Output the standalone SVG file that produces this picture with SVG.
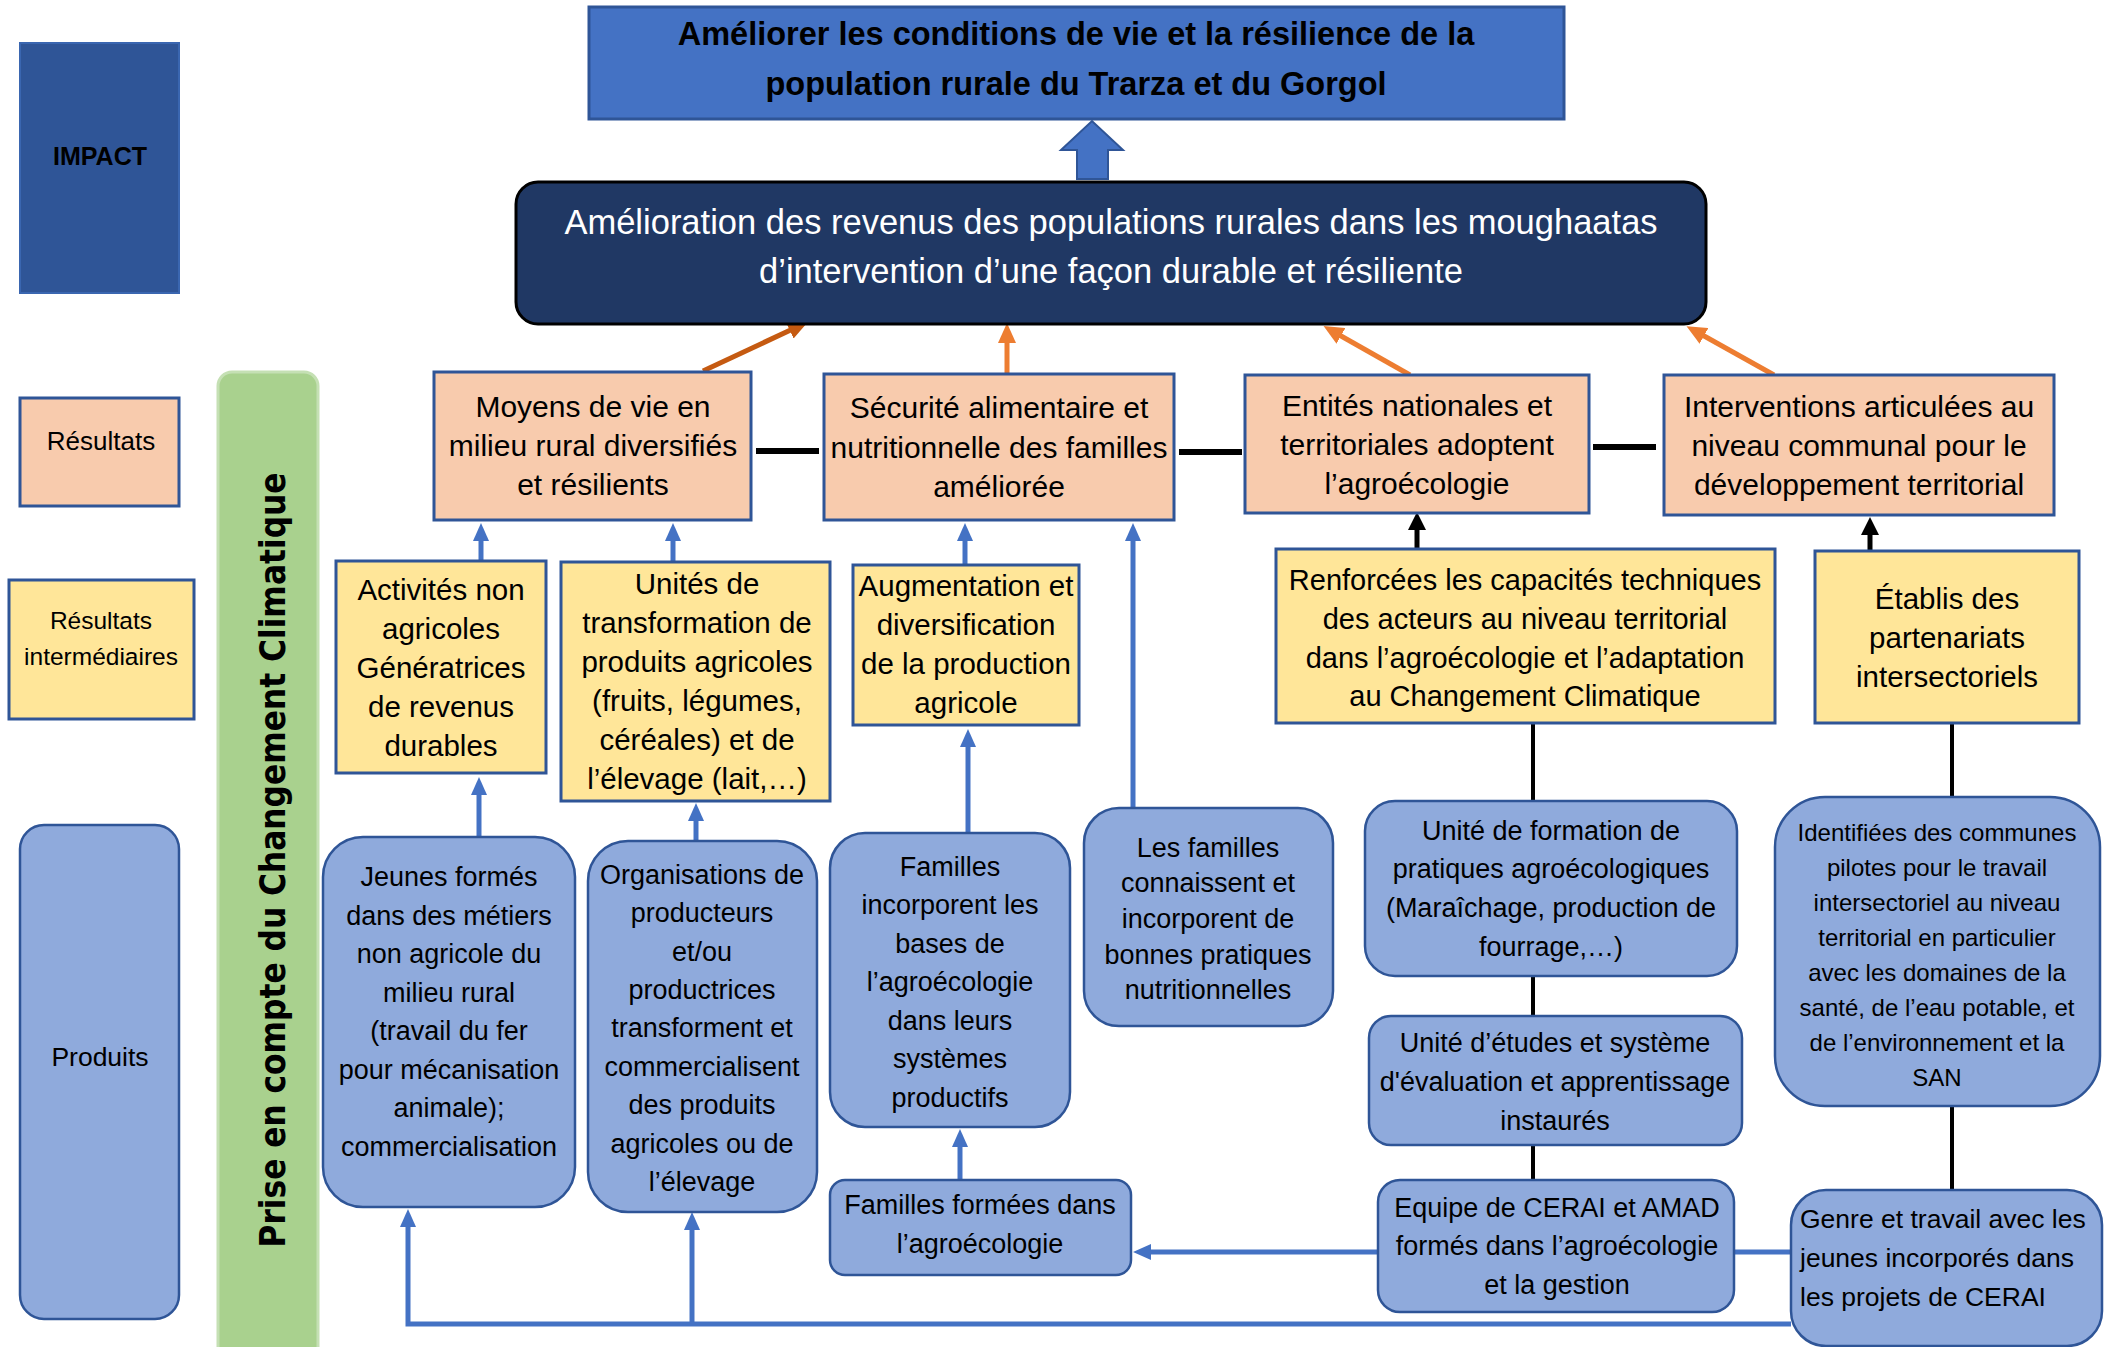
<svg xmlns="http://www.w3.org/2000/svg" width="2114" height="1347" viewBox="0 0 2114 1347">
<style>
text{font-family:"Liberation Sans",Arial,sans-serif;fill:#000;text-anchor:middle}
.res{fill:#F8CBAD;stroke:#2F5597;stroke-width:3}
.ri{fill:#FFE699;stroke:#2F5597;stroke-width:3}
.pr{fill:#8FAADC;stroke:#2F5597;stroke-width:2.5}
.f30{font-size:30px}
.f29{font-size:29.5px}
.f27{font-size:27px}
.bl{stroke:#4472C4;stroke-width:5;fill:none}
.bk{stroke:#000;stroke-width:4;fill:none}
.dash{stroke:#000;stroke-width:6}
</style>
<defs>
<marker id="aBlue" viewBox="0 0 18 16" refX="8" refY="8" markerWidth="18" markerHeight="16" markerUnits="userSpaceOnUse" orient="auto"><path d="M0,0 L18,8 L0,16 z" fill="#4472C4"/></marker>
<marker id="aBlack" viewBox="0 0 18 18" refX="8" refY="9" markerWidth="18" markerHeight="18" markerUnits="userSpaceOnUse" orient="auto"><path d="M0,0 L18,9 L0,18 z" fill="#000"/></marker>
<marker id="aOr" viewBox="0 0 20 18" refX="8" refY="9" markerWidth="20" markerHeight="18" markerUnits="userSpaceOnUse" orient="auto"><path d="M0,0 L20,9 L0,18 z" fill="#ED7D31"/></marker>
<marker id="aDOr" viewBox="0 0 20 18" refX="8" refY="9" markerWidth="20" markerHeight="18" markerUnits="userSpaceOnUse" orient="auto"><path d="M0,0 L20,9 L0,18 z" fill="#C55A11"/></marker>
</defs>

<!-- Legend -->
<g id="legend-impact"><rect x="20" y="43" width="159" height="250" fill="#2F5597" stroke="#3A66B0" stroke-width="2"/><text x="100" y="165" style="font-size:25px;font-weight:bold">IMPACT</text></g>
<g id="legend-resultats"><rect x="20" y="398" width="159" height="108" class="res"/><text x="101" y="450" style="font-size:26px">Résultats</text></g>
<g id="legend-ri"><rect x="9" y="580" width="185" height="139" class="ri"/><text style="font-size:24.5px"><tspan x="101" y="629">Résultats</tspan><tspan x="101" y="665">intermédiaires</tspan></text></g>
<g id="legend-produits"><rect x="20" y="825" width="159" height="494" rx="24" class="pr"/><text x="100" y="1066" style="font-size:26.5px">Produits</text></g>

<!-- Climate bar -->
<g id="climat"><rect x="218" y="372" width="100" height="1000" rx="14" fill="#A9D18E" stroke="#C5E0B4" stroke-width="3"/>
<text transform="translate(285,860) rotate(-90)" textLength="775" lengthAdjust="spacingAndGlyphs" style="font-family:'DejaVu Sans Condensed','DejaVu Sans',sans-serif;font-weight:bold;font-size:36px">Prise en compte du Changement Climatique</text></g>

<!-- Connectors -->
<g id="connectors">
<path d="M1077,179 L1077,150 L1061,150 L1092,121 L1123,150 L1108,150 L1108,179 Z" fill="#4472C4" stroke="#2F5597" stroke-width="2"/>
<line x1="703" y1="371" x2="797" y2="327" stroke="#C55A11" stroke-width="5" marker-end="url(#aDOr)"/>
<line x1="1007" y1="374" x2="1007" y2="335" stroke="#ED7D31" stroke-width="5" marker-end="url(#aOr)"/>
<line x1="1410" y1="375" x2="1334" y2="332" stroke="#ED7D31" stroke-width="5" marker-end="url(#aOr)"/>
<line x1="1774" y1="375" x2="1697" y2="332" stroke="#ED7D31" stroke-width="5" marker-end="url(#aOr)"/>
<line x1="756" y1="451" x2="819" y2="451" class="dash"/>
<line x1="1179" y1="452" x2="1242" y2="452" class="dash"/>
<line x1="1593" y1="447" x2="1656" y2="447" class="dash"/>
<line x1="1417" y1="549" x2="1417" y2="522" class="bk" style="stroke-width:5" marker-end="url(#aBlack)"/>
<line x1="1870" y1="551" x2="1870" y2="527" class="bk" style="stroke-width:5" marker-end="url(#aBlack)"/>
<line x1="481" y1="561" x2="481" y2="533" class="bl" marker-end="url(#aBlue)"/>
<line x1="673" y1="562" x2="673" y2="533" class="bl" marker-end="url(#aBlue)"/>
<line x1="965" y1="565" x2="965" y2="533" class="bl" marker-end="url(#aBlue)"/>
<line x1="1133" y1="808" x2="1133" y2="533" class="bl" marker-end="url(#aBlue)"/>
<line x1="479" y1="837" x2="479" y2="787" class="bl" marker-end="url(#aBlue)"/>
<line x1="696" y1="841" x2="696" y2="813" class="bl" marker-end="url(#aBlue)"/>
<line x1="968" y1="833" x2="968" y2="739" class="bl" marker-end="url(#aBlue)"/>
<line x1="960" y1="1180" x2="960" y2="1139" class="bl" marker-end="url(#aBlue)"/>
<line x1="1378" y1="1252" x2="1143" y2="1252" class="bl" marker-end="url(#aBlue)"/>
<line x1="1734" y1="1252" x2="1791" y2="1252" class="bl"/>
<path d="M1791,1324 L408,1324 L408,1219" class="bl" marker-end="url(#aBlue)"/>
<line x1="692" y1="1324" x2="692" y2="1222" class="bl" marker-end="url(#aBlue)"/>
<line x1="1533" y1="723" x2="1533" y2="801" class="bk"/>
<line x1="1533" y1="976" x2="1533" y2="1016" class="bk"/>
<line x1="1533" y1="1145" x2="1533" y2="1180" class="bk"/>
<line x1="1952" y1="723" x2="1952" y2="797" class="bk"/>
<line x1="1952" y1="1106" x2="1952" y2="1190" class="bk"/>
</g>

<!-- Impact -->
<g id="impact"><rect x="589" y="7" width="975" height="112" fill="#4472C4" stroke="#2F5597" stroke-width="3"/>
<text style="font-size:32.5px;font-weight:bold"><tspan x="1076" y="45">Améliorer les conditions de vie et la résilience de la</tspan><tspan x="1076" y="95">population rurale du Trarza et du Gorgol</tspan></text></g>

<g id="objectif"><rect x="516" y="182" width="1190" height="142" rx="22" fill="#203864" stroke="#000" stroke-width="3"/>
<text style="font-size:34.5px;fill:#fff"><tspan x="1111" y="234">Amélioration des revenus des populations rurales dans les moughaatas</tspan><tspan x="1111" y="283">d’intervention d’une façon durable et résiliente</tspan></text></g>

<!-- Résultats -->
<g id="r1"><rect x="434" y="372" width="317" height="148" class="res"/>
<text class="f30"><tspan x="593" y="417">Moyens de vie en</tspan><tspan x="593" y="456">milieu rural diversifiés</tspan><tspan x="593" y="495">et résilients</tspan></text></g>
<g id="r2"><rect x="824" y="374" width="350" height="146" class="res"/>
<text class="f30"><tspan x="999" y="418">Sécurité alimentaire et</tspan><tspan x="999" y="458">nutritionnelle des familles</tspan><tspan x="999" y="497">améliorée</tspan></text></g>
<g id="r3"><rect x="1245" y="375" width="344" height="138" class="res"/>
<text class="f30"><tspan x="1417" y="416">Entités nationales et</tspan><tspan x="1417" y="455">territoriales adoptent</tspan><tspan x="1417" y="494">l’agroécologie</tspan></text></g>
<g id="r4"><rect x="1664" y="375" width="390" height="140" class="res"/>
<text class="f30"><tspan x="1859" y="417">Interventions articulées au</tspan><tspan x="1859" y="456">niveau communal pour le</tspan><tspan x="1859" y="495">développement territorial</tspan></text></g>

<!-- Résultats intermédiaires -->
<g id="y1"><rect x="336" y="561" width="210" height="212" class="ri"/>
<text class="f29"><tspan x="441" y="600">Activités non</tspan><tspan x="441" y="639">agricoles</tspan><tspan x="441" y="678">Génératrices</tspan><tspan x="441" y="717">de revenus</tspan><tspan x="441" y="756">durables</tspan></text></g>
<g id="y2"><rect x="561" y="562" width="269" height="239" class="ri"/>
<text class="f29"><tspan x="697" y="594">Unités de</tspan><tspan x="697" y="633">transformation de</tspan><tspan x="697" y="672">produits agricoles</tspan><tspan x="697" y="711">(fruits, légumes,</tspan><tspan x="697" y="750">céréales) et de</tspan><tspan x="697" y="789">l’élevage (lait,…)</tspan></text></g>
<g id="y3"><rect x="853" y="565" width="226" height="160" class="ri"/>
<text class="f29"><tspan x="966" y="596">Augmentation et</tspan><tspan x="966" y="635">diversification</tspan><tspan x="966" y="674">de la production</tspan><tspan x="966" y="713">agricole</tspan></text></g>
<g id="y4"><rect x="1276" y="549" width="499" height="174" class="ri"/>
<text class="f29" style="font-size:29px"><tspan x="1525" y="590">Renforcées les capacités techniques</tspan><tspan x="1525" y="629">des acteurs au niveau territorial</tspan><tspan x="1525" y="668">dans l’agroécologie et l’adaptation</tspan><tspan x="1525" y="706">au Changement Climatique</tspan></text></g>
<g id="y5"><rect x="1815" y="551" width="264" height="172" class="ri"/>
<text class="f29"><tspan x="1947" y="609">Établis des</tspan><tspan x="1947" y="648">partenariats</tspan><tspan x="1947" y="687">intersectoriels</tspan></text></g>

<!-- Produits -->
<g id="p1"><rect x="323" y="837" width="252" height="370" rx="40" class="pr"/>
<text class="f27"><tspan x="449" y="886">Jeunes formés</tspan><tspan x="449" y="924.5">dans des métiers</tspan><tspan x="449" y="963">non agricole du</tspan><tspan x="449" y="1001.5">milieu rural</tspan><tspan x="449" y="1040">(travail du fer</tspan><tspan x="449" y="1078.5">pour mécanisation</tspan><tspan x="449" y="1117">animale);</tspan><tspan x="449" y="1155.5">commercialisation</tspan></text></g>
<g id="p2"><rect x="588" y="841" width="229" height="371" rx="40" class="pr"/>
<text class="f27"><tspan x="702" y="883.5">Organisations de</tspan><tspan x="702" y="922">producteurs</tspan><tspan x="702" y="960.5">et/ou</tspan><tspan x="702" y="999">productrices</tspan><tspan x="702" y="1037">transforment et</tspan><tspan x="702" y="1075.5">commercialisent</tspan><tspan x="702" y="1114">des produits</tspan><tspan x="702" y="1152.5">agricoles ou de</tspan><tspan x="702" y="1191">l’élevage</tspan></text></g>
<g id="p3"><rect x="830" y="833" width="240" height="294" rx="35" class="pr"/>
<text class="f27"><tspan x="950" y="875.5">Familles</tspan><tspan x="950" y="914">incorporent les</tspan><tspan x="950" y="952.5">bases de</tspan><tspan x="950" y="991">l’agroécologie</tspan><tspan x="950" y="1029.5">dans leurs</tspan><tspan x="950" y="1068">systèmes</tspan><tspan x="950" y="1106.5">productifs</tspan></text></g>
<g id="p4"><rect x="830" y="1180" width="301" height="95" rx="15" class="pr"/>
<text class="f27"><tspan x="980" y="1213.5">Familles formées dans</tspan><tspan x="980" y="1252.5">l’agroécologie</tspan></text></g>
<g id="p5"><rect x="1084" y="808" width="249" height="218" rx="35" class="pr"/>
<text class="f27"><tspan x="1208" y="856.5">Les familles</tspan><tspan x="1208" y="892">connaissent et</tspan><tspan x="1208" y="928">incorporent de</tspan><tspan x="1208" y="963.5">bonnes pratiques</tspan><tspan x="1208" y="999">nutritionnelles</tspan></text></g>
<g id="p6"><rect x="1365" y="801" width="372" height="175" rx="30" class="pr"/>
<text class="f27"><tspan x="1551" y="839.5">Unité de formation de</tspan><tspan x="1551" y="878">pratiques agroécologiques</tspan><tspan x="1551" y="917">(Maraîchage, production de</tspan><tspan x="1551" y="955.5">fourrage,…)</tspan></text></g>
<g id="p7"><rect x="1369" y="1016" width="373" height="129" rx="22" class="pr"/>
<text class="f27"><tspan x="1555" y="1051.5">Unité d’études et système</tspan><tspan x="1555" y="1090.5">d'évaluation et apprentissage</tspan><tspan x="1555" y="1129.5">instaurés</tspan></text></g>
<g id="p8"><rect x="1378" y="1180" width="356" height="132" rx="22" class="pr"/>
<text class="f27"><tspan x="1557" y="1216.5">Equipe de CERAI et AMAD</tspan><tspan x="1557" y="1255">formés dans l’agroécologie</tspan><tspan x="1557" y="1293.5">et la gestion</tspan></text></g>
<g id="p9"><rect x="1775" y="797" width="325" height="309" rx="50" class="pr"/>
<text style="font-size:24px"><tspan x="1937" y="840.5">Identifiées des communes</tspan><tspan x="1937" y="875.5">pilotes pour le travail</tspan><tspan x="1937" y="910.5">intersectoriel au niveau</tspan><tspan x="1937" y="945.5">territorial en particulier</tspan><tspan x="1937" y="980.5">avec les domaines de la</tspan><tspan x="1937" y="1015.5">santé, de l’eau potable, et</tspan><tspan x="1937" y="1050.5">de l’environnement et la</tspan><tspan x="1937" y="1085.5">SAN</tspan></text></g>
<g id="p10"><rect x="1791" y="1190" width="311" height="156" rx="35" class="pr"/>
<text style="font-size:26.5px;text-anchor:start"><tspan x="1800" y="1228">Genre et travail avec les</tspan><tspan x="1800" y="1267">jeunes incorporés dans</tspan><tspan x="1800" y="1306">les projets de CERAI</tspan></text></g>
</svg>
